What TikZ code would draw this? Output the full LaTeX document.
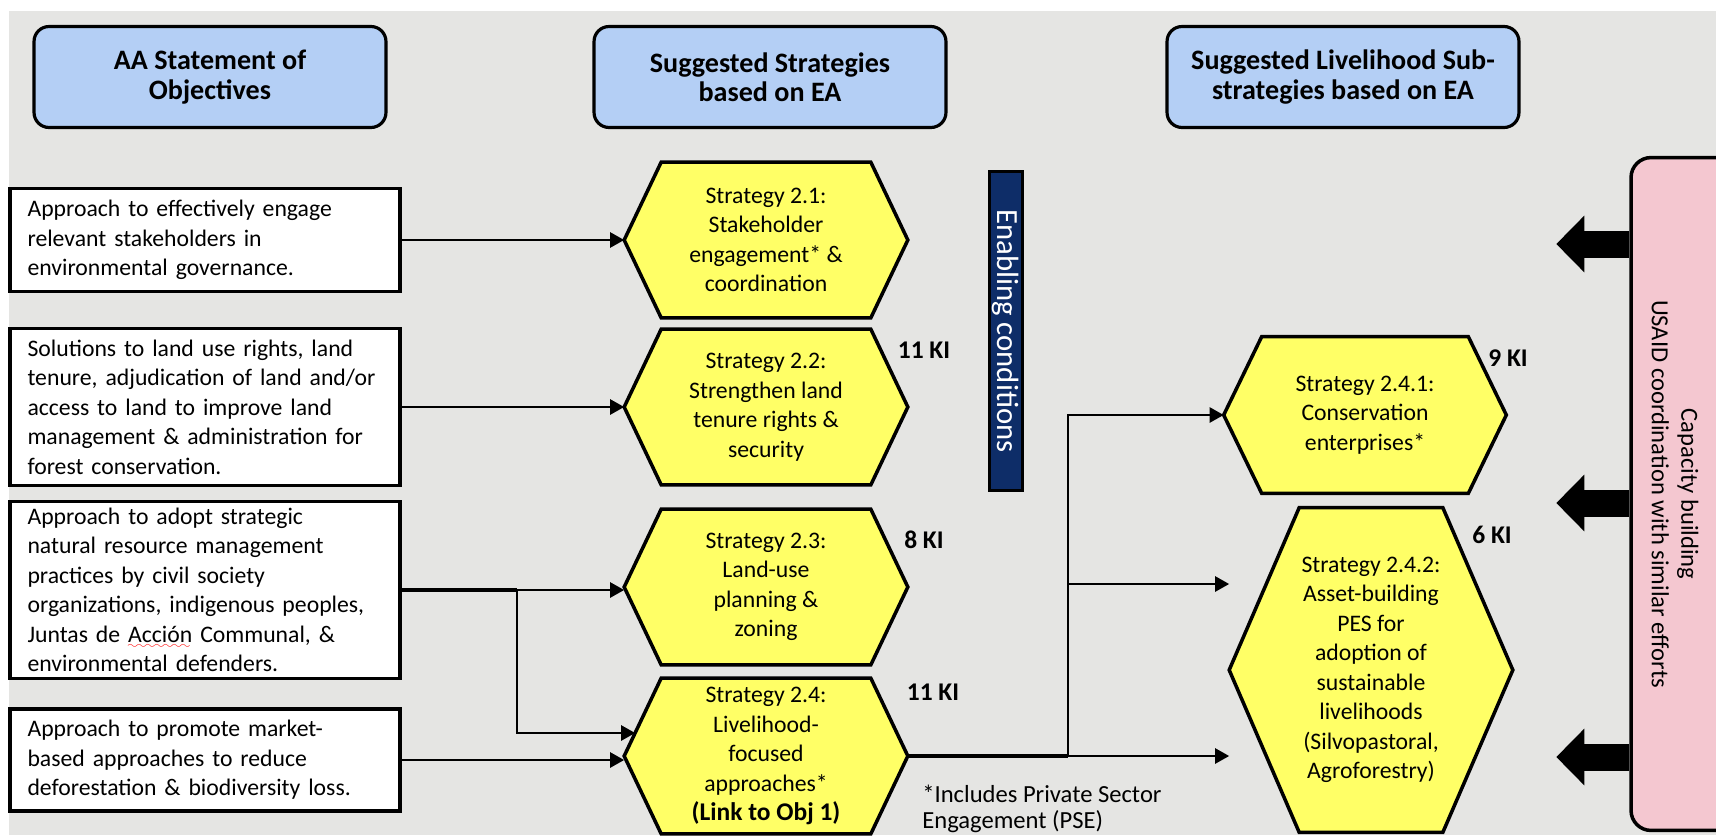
\documentclass[tikz,border=0pt]{standalone}
\usepackage{fontspec}
\setmainfont{Carlito}
\usetikzlibrary{arrows.meta,backgrounds}

\definecolor{panelgray}{RGB}{229,229,227}
\definecolor{headblue}{RGB}{180,207,245}
\definecolor{hexyellow}{RGB}{255,255,102}
\definecolor{enabnavy}{RGB}{14,45,104}
\definecolor{usaidpink}{RGB}{244,199,208}

\font\wavefont=lasy6
\newcommand{\squig}[1]{\setbox0\hbox{#1}\rlap{\textcolor{red}{\lower3.5pt\hbox to\wd0{\leaders\hbox{\wavefont\char58}\hfil}}}\box0\relax}
\newcommand{\hexborder}[2]{\filldraw[hexline] (#1.west) -- ([xshift=#2]#1.north west) -- ([xshift=-#2]#1.north east) -- (#1.east) -- ([xshift=-#2]#1.south east) -- ([xshift=#2]#1.south west) -- cycle;}

\begin{document}
\begin{tikzpicture}[x=0.02cm, y=-0.02cm,
  every node/.style={font=\fontsize{13.5}{16.8}\selectfont},
  header/.style={draw, line width=1.8pt, rounded corners=0.3cm, fill=headblue, minimum width=7.04cm, minimum height=2.02cm, align=center, font=\fontsize{16}{16.8}\selectfont\bfseries},
  objbox/.style={draw, line width=2pt, fill=white, text width=7.1cm, inner xsep=0.35cm, inner ysep=0.05cm, align=left},
  strat/.style={inner sep=0pt, align=center, minimum width=5.66cm, minimum height=3.1cm},
  hexline/.style={line width=2pt, fill=hexyellow},
  ki/.style={font=\fontsize{14.5}{16}\selectfont\bfseries},
  link/.style={line width=1.4pt, -{Triangle[length=0.28cm, width=0.3cm]}},
  trunk/.style={line width=2.8pt},
  fat/.style={line width=0.54cm, -{Triangle[length=0.56cm, width=1.1cm]}}]
\useasboundingbox (0,0) rectangle (1716,835);

\node[header] (aahead) at (210,77) {AA Statement of\\Objectives};
\node[header] (strathead) at (770,77) {Suggested Strategies\\based on EA};
\node[header] (subhead) at (1343,77) {Suggested Livelihood Sub-\\strategies based on EA};

\node[objbox, minimum height=2.06cm] (obj1) at (205,240) {Approach to effectively engage\\relevant stakeholders in\\environmental governance.};
\node[objbox, minimum height=3.14cm] (obj2) at (205,407) {Solutions to land use rights, land\\tenure, adjudication of land and/or\\access to land to improve land\\management \& administration for\\forest conservation.};
\node[objbox, minimum height=3.54cm] (obj3) at (205,590) {Approach to adopt strategic\\natural resource management\\practices by civil society\\organizations, indigenous peoples,\\Juntas de \squig{Acción} Communal, \&\\environmental defenders.};
\node[objbox, minimum height=2.04cm] (obj4) at (205,760) {Approach to promote market-\\based approaches to reduce\\deforestation \& biodiversity loss.};

\node[strat] (s21) at (766,240) {Strategy 2.1:\\Stakeholder\\engagement* \&\\coordination};
\node[strat] (s22) at (766,407) {Strategy 2.2:\\Strengthen land\\tenure rights \&\\security};
\node[strat] (s23) at (766,587) {Strategy 2.3:\\Land-use\\planning \&\\zoning};
\node[strat] (s24) at (766,756) {Strategy 2.4:\\Livelihood-\\focused\\approaches*\\\textbf{\fontsize{14.5}{16.8}\selectfont(Link to Obj 1)}};
\node[strat, minimum width=5.64cm, minimum height=3.12cm] (s241) at (1365,415) {Strategy 2.4.1:\\Conservation\\enterprises*};
\node[strat, minimum height=6.48cm] (s242) at (1371,670) {Strategy 2.4.2:\\Asset-building\\PES for\\adoption of\\sustainable\\livelihoods\\(Silvopastoral,\\Agroforestry)};

\node[ki] (ki22) at (924,350) {11 KI};
\node[ki] (ki23) at (924,540) {8 KI};
\node[ki] (ki24) at (933,692) {11 KI};
\node[ki] (ki241) at (1508,358) {9 KI};
\node[ki] (ki242) at (1492,535) {6 KI};

\node[draw, line width=1.5pt, fill=enabnavy, text=white, rotate=-90, minimum width=6.38cm, minimum height=0.66cm, inner sep=0pt, font=\fontsize{17.5}{20}\selectfont] (enabling) at (1006,331) {Enabling conditions};

\node[draw, line width=2pt, fill=usaidpink, rounded corners=0.4cm, minimum width=3cm, minimum height=13.46cm] (usaidbox) at (1706,494) {};
\node[rotate=-90, align=center, font=\fontsize{14}{16.8}\selectfont] (usaid) at (1675,494) {Capacity building\\USAID coordination with similar efforts};

\node[anchor=north west, align=left, inner sep=0pt, font=\fontsize{14}{14.5}\selectfont] (pse) at (922,785) {*Includes Private Sector\\Engagement (PSE)};

\draw[link] (obj1.east) -- (s21.west);
\draw[link] (obj2.east) -- (s22.west);
\coordinate (split) at (517,590);
\draw[trunk] (obj3.east) -- (split);
\draw[link] (split) -- (split -| s23.west);
\draw[link] (split) |- ([xshift=0.22cm,yshift=0.46cm]s24.west);
\draw[link] (obj4.east) -- (obj4.east -| s24.west);

\coordinate (fork) at (1068,756);
\coordinate (fork2) at (1068,584);
\draw[trunk] (s24.east) -- (fork);
\draw[link] (fork) |- (s241.west);
\draw[link] (fork2) -- (fork2 -| s242.west);
\draw[link] (fork) -- (fork -| s242.west);

\draw[fat] (usaidbox.west |- 0,244) -- +(-73,0);
\draw[fat] (usaidbox.west |- 0,503) -- +(-73,0);
\draw[fat] (usaidbox.west |- 0,757) -- +(-73,0);

\begin{scope}[on background layer]
\fill[panelgray] (9,11) rectangle (1716,835);
\hexborder{s21}{0.74cm}
\hexborder{s22}{0.74cm}
\hexborder{s23}{0.74cm}
\hexborder{s24}{0.74cm}
\hexborder{s241}{0.76cm}
\hexborder{s242}{1.4cm}
\end{scope}
\end{tikzpicture}
\end{document}
